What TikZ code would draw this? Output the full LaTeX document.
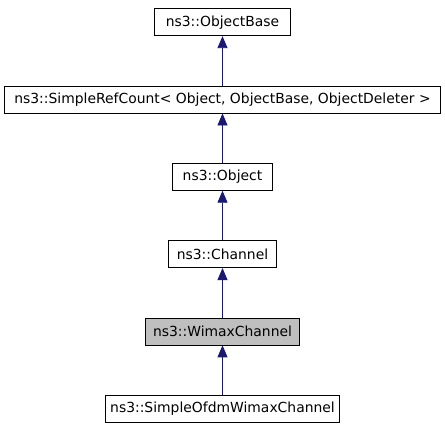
\documentclass[tikz,border=0pt]{standalone}
\usepackage{fontspec}
\setmainfont{DejaVu Sans}
\usetikzlibrary{matrix}
\usetikzlibrary{arrows.meta}
\definecolor{edgeblue}{HTML}{191970}
\definecolor{boxgray}{HTML}{BFBFBF}

\begin{document}
\begin{tikzpicture}[
    classbox/.style={draw, thick, fill=white, minimum height=27pt, inner xsep=0pt, font=\fontsize{13.9}{16}\selectfont},
    current/.style={classbox, fill=boxgray}
  ]
  \useasboundingbox (0,0) rectangle (445pt,-427pt);
  \matrix (m) [matrix of nodes, row sep=49.5pt, nodes={classbox}, anchor=center] at (222.5pt,-215.5pt)
  {
     |[minimum width=136pt]| ns3::ObjectBase \\
     |[minimum width=436pt]| ns3::SimpleRefCount< Object, ObjectBase, ObjectDeleter > \\
     |[minimum width=100pt]| ns3::Object \\
     |[minimum width=108pt]| ns3::Channel \\
     |[current, minimum width=154pt]| ns3::WimaxChannel \\
     |[minimum width=234pt]| ns3::SimpleOfdmWimaxChannel \\};
  \path[draw=edgeblue, thick, -{Triangle[length=12pt,width=10pt,fill=edgeblue]}]
    (m-2-1) edge (m-1-1)
    (m-3-1) edge (m-2-1)
    (m-4-1) edge (m-3-1)
    (m-5-1) edge (m-4-1)
    (m-6-1) edge (m-5-1);
\end{tikzpicture}
\end{document}
